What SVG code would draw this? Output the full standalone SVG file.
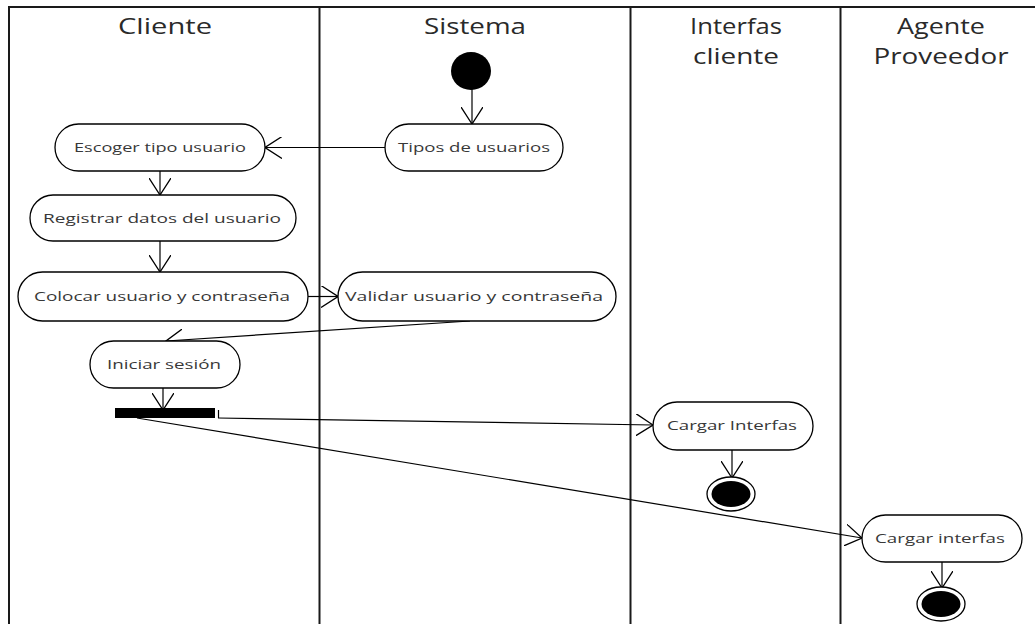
<svg xmlns="http://www.w3.org/2000/svg" width="1035" height="624" viewBox="0 0 1035 624">
  <defs>
    <style>
      .lane { stroke: #1a1a1a; stroke-width: 2; fill: none; }
      .head { font-family: "Open Sans", "Liberation Sans", sans-serif; font-size: 22px; fill: #2a2a2a; text-anchor: middle; }
      .act rect { fill: #fff; stroke: #000; stroke-width: 1.3; }
      .act text { font-family: "Open Sans", "Liberation Sans", sans-serif; font-size: 13.5px; fill: #383838; text-anchor: middle; }
      .flow { stroke: #000; stroke-width: 1.2; fill: none; marker-end: url(#open); }
      .plain { stroke: #000; stroke-width: 1.2; fill: none; }
    </style>
    <marker id="open" viewBox="0 0 18 22" refX="17" refY="11" markerWidth="18" markerHeight="22" markerUnits="userSpaceOnUse" orient="auto">
      <path d="M0,0 L17,11 L0,22" fill="none" stroke="#000" stroke-width="1.3"/>
    </marker>
  </defs>

  <rect width="1035" height="624" fill="#fff"/>

  <!-- swimlanes -->
  <g id="lanes">
    <line class="lane" x1="8" y1="7" x2="1035" y2="7"/>
    <line class="lane" x1="9" y1="7" x2="9" y2="624"/>
    <line class="lane" x1="319.5" y1="7" x2="319.5" y2="624"/>
    <line class="lane" x1="630.5" y1="7" x2="630.5" y2="624"/>
    <line class="lane" x1="840.5" y1="7" x2="840.5" y2="624"/>
    <text class="head" x="165" y="34" textLength="94" lengthAdjust="spacingAndGlyphs">Cliente</text>
    <text class="head" x="475" y="34" textLength="102" lengthAdjust="spacingAndGlyphs">Sistema</text>
    <text class="head" x="736" y="34" textLength="92" lengthAdjust="spacingAndGlyphs">Interfas</text>
    <text class="head" x="736" y="64" textLength="86" lengthAdjust="spacingAndGlyphs">cliente</text>
    <text class="head" x="941" y="34" textLength="88" lengthAdjust="spacingAndGlyphs">Agente</text>
    <text class="head" x="941" y="64" textLength="135" lengthAdjust="spacingAndGlyphs">Proveedor</text>
  </g>

  <!-- transitions -->
  <g id="connectors">
    <line class="flow" x1="472" y1="89" x2="472" y2="124"/>
    <line class="flow" x1="385" y1="147.5" x2="265" y2="147.5"/>
    <line class="flow" x1="160" y1="171" x2="160" y2="195"/>
    <line class="flow" x1="160" y1="241" x2="160" y2="272"/>
    <line class="flow" x1="308" y1="296.5" x2="338" y2="296.5"/>
    <line class="flow" x1="470" y1="321" x2="166" y2="341"/>
    <line class="flow" x1="163" y1="388" x2="163" y2="410"/>
    <line class="plain" x1="218.5" y1="410" x2="218.5" y2="418"/>
    <line class="flow" x1="218" y1="418" x2="653" y2="425"/>
    <line class="flow" x1="137" y1="418" x2="862" y2="538"/>
    <line class="flow" x1="732" y1="450" x2="732" y2="478"/>
    <line class="flow" x1="942" y1="562" x2="942" y2="588"/>
  </g>

  <!-- initial node -->
  <g id="start">
    <ellipse cx="471" cy="71" rx="20" ry="19" fill="#000"/>
  </g>

  <!-- actions -->
  <g id="escoger" class="act">
    <rect x="55" y="124" width="210" height="47" rx="23.5"/>
    <text x="160" y="152" textLength="172" lengthAdjust="spacingAndGlyphs">Escoger tipo usuario</text>
  </g>
  <g id="tipos" class="act">
    <rect x="385" y="124" width="178" height="47" rx="23.5"/>
    <text x="474" y="152" textLength="152" lengthAdjust="spacingAndGlyphs">Tipos de usuarios</text>
  </g>
  <g id="registrar" class="act">
    <rect x="30" y="195" width="266" height="46" rx="23"/>
    <text x="162" y="223" textLength="238" lengthAdjust="spacingAndGlyphs">Registrar datos del usuario</text>
  </g>
  <g id="colocar" class="act">
    <rect x="18" y="272" width="290" height="49" rx="24.5"/>
    <text x="162" y="301" textLength="256" lengthAdjust="spacingAndGlyphs">Colocar usuario y contraseña</text>
  </g>
  <g id="validar" class="act">
    <rect x="338" y="272" width="278" height="49" rx="24.5"/>
    <text x="474" y="301" textLength="258" lengthAdjust="spacingAndGlyphs">Validar usuario y contraseña</text>
  </g>
  <g id="iniciar" class="act">
    <rect x="90" y="341" width="150" height="47" rx="23.5"/>
    <text x="164" y="369" textLength="114" lengthAdjust="spacingAndGlyphs">Iniciar sesión</text>
  </g>

  <!-- fork -->
  <g id="fork">
    <rect x="115" y="408" width="100" height="10" fill="#000"/>
  </g>

  <g id="cargar-cliente" class="act">
    <rect x="653" y="402" width="160" height="48" rx="24"/>
    <text x="732" y="430" textLength="130" lengthAdjust="spacingAndGlyphs">Cargar Interfas</text>
  </g>
  <g id="cargar-proveedor" class="act">
    <rect x="862" y="515" width="160" height="47" rx="23.5"/>
    <text x="940" y="543" textLength="130" lengthAdjust="spacingAndGlyphs">Cargar interfas</text>
  </g>

  <!-- final nodes -->
  <g id="end-cliente">
    <ellipse cx="731" cy="494" rx="24" ry="17" fill="#fff" stroke="#000" stroke-width="1.3"/>
    <ellipse cx="731" cy="494" rx="19.5" ry="13" fill="#000"/>
  </g>
  <g id="end-proveedor">
    <ellipse cx="941" cy="604" rx="24" ry="17" fill="#fff" stroke="#000" stroke-width="1.3"/>
    <ellipse cx="941" cy="604" rx="19.5" ry="13" fill="#000"/>
  </g>
</svg>
